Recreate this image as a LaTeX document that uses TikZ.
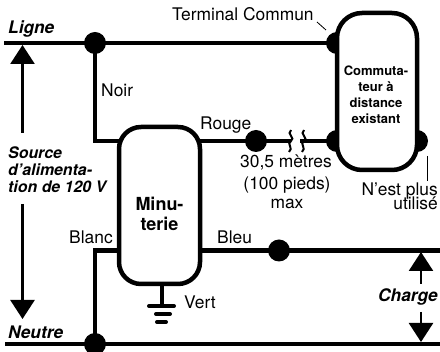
\documentclass[tikz,border=0pt]{standalone}
\usepackage{fontspec}
\setmainfont{TeX Gyre Heros}
\usetikzlibrary{positioning, arrows.meta, calc}
\tikzset{main box/.style={rectangle, draw, fill=white, line width=4.5pt, rounded corners=22pt, inner sep=0pt},
	wire dot/.style={circle, fill=black, minimum size=22pt, inner sep=0pt},
	wire/.style={line width=4.5pt, line cap=rect},
	span arrow/.style={-{Triangle[length=19pt,width=24pt]}, line width=2.5pt},
	lead/.style={line width=0.8pt},
	plain label/.style={font=\fontsize{17.4}{14}\selectfont, inner sep=0pt},
	side label/.style={font=\fontsize{17.3}{17}\selectfont\bfseries\itshape, inner sep=0pt},
	source label/.style={font=\fontsize{15.9}{17}\selectfont\bfseries\itshape, inner sep=0pt},}

\begin{document}
\begin{tikzpicture}[x=1pt, y=-1pt]
			\useasboundingbox (0,0) rectangle (440,352);
			% Dots
			\node[wire dot] (ligne dot) at (95,43) {};
			\node[wire dot] (neutre dot) at (95,344) {};
			\node[wire dot] (rouge dot) at (256,141) {};
			\node[wire dot] (bleu dot) at (279,250.5) {};
			\node[wire dot] (commun dot) at (337,43) {};
			\node[wire dot] (rouge end) at (337,141) {};
			\node[wire dot] (spare dot) at (417,141) {};
			% Boxes
			\node[main box, minimum width=81pt, minimum height=157pt] (timer) at (159.5,205.5) {};
			\node[main box, minimum width=80pt, minimum height=157pt, rounded corners=25pt] (switch) at (377,91.5) {};
			\node[font=\fontsize{18}{20}\selectfont\bfseries, align=center, inner sep=0pt, anchor=base] (timer text) at (159.5,211) {Minu-};
			\node[font=\fontsize{18}{20}\selectfont\bfseries, align=center, inner sep=0pt, anchor=base, below = 6pt of timer text.base] (timer text two) {terie};
			\node[font=\fontsize{13}{16}\selectfont\bfseries, align=center, inner sep=0pt] (switch text) at (376,95) {Commuta-\\teur à\\distance\\existant};
			% Free ends
			\coordinate (ligne start) at (6,43);
			\coordinate (neutre start) at (7,344);
			\coordinate (neutre end) at (440,344);
			\coordinate (bleu end) at (440,250.5);
			\coordinate (noir end) at (119,141);
			\coordinate (blanc end) at (119,250.5);
			\coordinate (rouge start) at (200,141);
			\coordinate (bleu start) at (200,250.5);
			\coordinate (break left) at (289,141);
			\coordinate (break right) at (302,141);
			\coordinate (ground top) at (162,284);
			\coordinate (ground foot) at (162,306);
			% Paths
			\draw[wire] (ligne start) -- (ligne dot) -- (commun dot);
			\draw[wire] (neutre start) -- (neutre end);
			\draw[wire] (ligne dot) |- (noir end);
			\draw[wire] (neutre dot) |- (blanc end);
			\draw[wire] (rouge start) -- (rouge dot) -- (break left);
			\draw[wire] (break right) -- (rouge end);
			\draw[wire] (bleu start) -- (bleu dot) -- (bleu end);
			\draw[wire] (ground top) -- (ground foot);
			% Break and ground
			\draw[line width=2pt] (break left) ++(2,-11) .. controls +(-5,4) and +(5,-3) .. ++(0,11) .. controls +(-5,3) and +(5,-4) .. ++(-2,11);
			\draw[line width=2pt] (break right) ++(2,-11) .. controls +(-5,4) and +(5,-3) .. ++(0,11) .. controls +(-5,3) and +(5,-4) .. ++(-2,11);
			\draw[line width=4pt, line cap=round] (149,306) -- (174,306) (156,314) -- (170,314) (157,322) -- (166,322);
			% Arrows
			\coordinate (source up from) at (22.5,133);
			\coordinate (source up to) at (22.5,45);
			\coordinate (source down from) at (22.5,204);
			\coordinate (source down to) at (22.5,319);
			\coordinate (charge up from) at (421,284);
			\coordinate (charge up to) at (421,252);
			\coordinate (charge down from) at (421,312);
			\coordinate (charge down to) at (421,342);
			\draw[span arrow] (source up from) -- (source up to);
			\draw[span arrow] (source down from) -- (source down to);
			\draw[span arrow] (charge up from) -- (charge up to);
			\draw[span arrow] (charge down from) -- (charge down to);
			% Labels
			\node[plain label, anchor=base west] (commun label) at (172,21) {Terminal Commun};
			\node[plain label, anchor=base west] (noir label) at (101,97) {Noir};
			\node[plain label, anchor=base west] (rouge label) at (200,130) {Rouge};
			\node[plain label, anchor=base west] (blanc label) at (69,244) {Blanc};
			\node[plain label, anchor=base west] (bleu label) at (217,244) {Bleu};
			\node[plain label, anchor=base west] (vert label) at (184,309) {Vert};
			\node[plain label, anchor=base] (length label) at (286,168) {30,5 mètres};
			\node[plain label, anchor=base] (feet label) at (287,190) {(100 pieds)};
			\node[plain label, anchor=base] (max label) at (287,209) {max};
			\node[plain label, align=right, anchor=north east] (unused label) at (438,182.5) {N’est plus\\[-3pt]utilisé};
			\node[side label, anchor=base west] (ligne label) at (8,34) {Ligne};
			\node[side label, anchor=base west] (neutre label) at (8,339) {Neutre};
			\node[side label, anchor=base west] (charge label) at (378,302) {Charge};
			\node[source label, align=left, anchor=north west] (source text) at (8,147) {Source\\d’alimenta-\\tion de 120 V};
			% Leaders
			\coordinate (commun lead) at (317,22);
			\coordinate (commun tip) at (326,30);
			\coordinate (unused lead) at (427,156);
			\coordinate (unused tip) at (427,181);
			\draw[lead] (commun lead) -- (commun tip);
			\draw[lead] (unused lead) -- (unused tip);
		\end{tikzpicture}
\end{document}
